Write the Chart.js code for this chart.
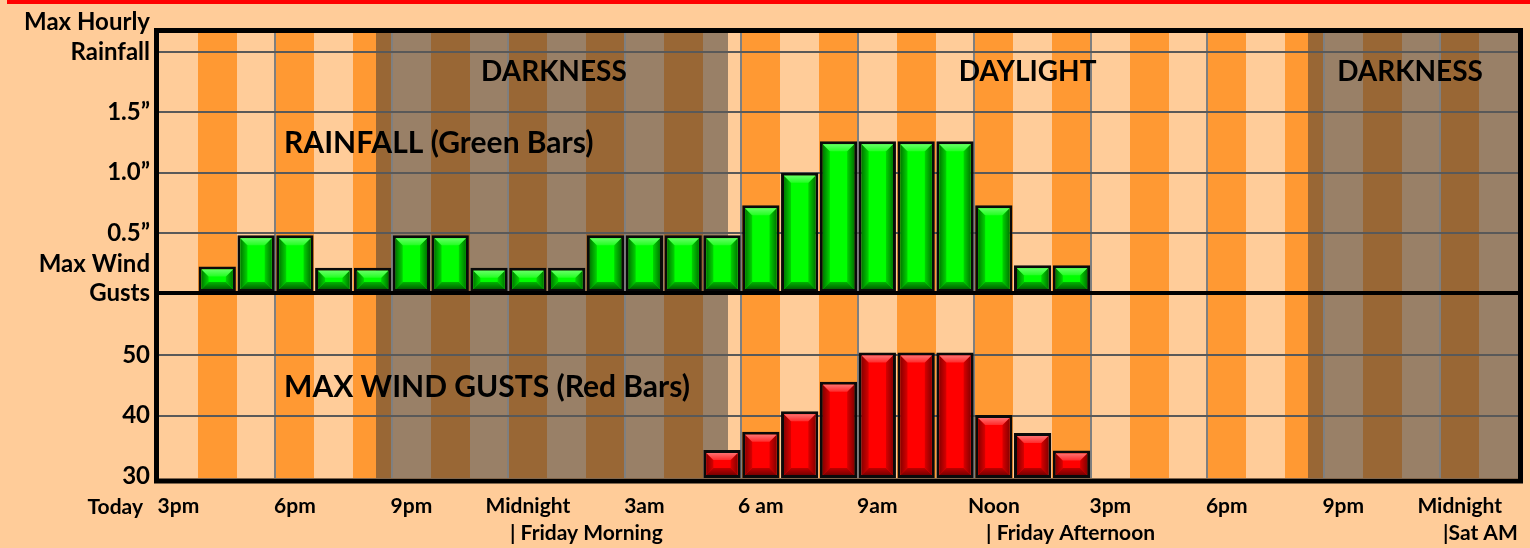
<!DOCTYPE html>
<html><head><meta charset="utf-8">
<script src="https://cdn.jsdelivr.net/npm/chart.js@4.4.1/dist/chart.umd.min.js"></script>
<style>
html,body{margin:0;padding:0;background:#FFCC99;}
body{width:1530px;height:548px;overflow:hidden;position:relative;}
#wrap{position:absolute;left:0;top:0;width:1530px;height:548px;}
#redline{position:absolute;left:7px;right:0;top:0;height:4px;background:#FF0000;}
</style></head><body>
<div id="wrap"><canvas id="c" width="1530" height="548"></canvas></div>
<div id="redline"></div>
<script>
// ---- data ----
const hours = ['Thu 3pm','Thu 4pm','Thu 5pm','Thu 6pm','Thu 7pm','Thu 8pm','Thu 9pm','Thu 10pm','Thu 11pm',
  'Fri 12am','Fri 1am','Fri 2am','Fri 3am','Fri 4am','Fri 5am','Fri 6am','Fri 7am','Fri 8am','Fri 9am','Fri 10am','Fri 11am',
  'Fri 12pm','Fri 1pm','Fri 2pm','Fri 3pm','Fri 4pm','Fri 5pm','Fri 6pm','Fri 7pm','Fri 8pm','Fri 9pm','Fri 10pm','Fri 11pm',
  'Sat 12am','Sat 1am'];
const xTickLabels = ['3pm','','','6pm','','','9pm','','','Midnight','','','3am','','','6 am','','','9am','','',
  'Noon','','','3pm','','','6pm','','','9pm','','','Midnight',''];
const rainfall = [null,0.22,0.48,0.48,0.21,0.21,0.48,0.48,0.21,0.21,0.21,0.48,0.48,0.48,0.48,0.73,1.0,1.26,1.26,1.26,1.26,0.73,0.23,0.23,
  null,null,null,null,null,null,null,null,null,null,null];
const windGusts = [null,null,null,null,null,null,null,null,null,null,null,null,null,null,
  34.3,37.3,40.7,45.6,50.4,50.4,50.4,40.1,37.1,34.2,null,null,null,null,null,null,null,null,null,null,null];
const rainTicks = [0,0.5,1.0,1.5,2.0];
const rainTickLabels = ['Gusts','0.5\u201D','1.0\u201D','1.5\u201D','Rainfall'];
const windTicks = [30,40,50];
const windTickLabels = ['30','40','50'];
const darknessSpans = [[5.6,14.65],[29.6,35]];   // in hour-column units
const dayLabels = ['| Friday Morning','| Friday Afternoon','|Sat AM'];

// ---- layout / style config ----
const RAIN_MIN = 0, RAIN_MAX = 2.16, WIND_MIN = 29.67, WIND_MAX = 60.25;
const FONT = 'Lato';
const dayLabelCols = [9.04, 21.3, 33.07];
const annotations = [
  {text:'DARKNESS', col:10.17, axis:'yRain', value:1.76, align:'center', size:28},
  {text:'DAYLIGHT', col:22.37, axis:'yRain', value:1.76, align:'center', size:28},
  {text:'DARKNESS', col:32.22, axis:'yRain', value:1.76, align:'center', size:28},
  {text:'RAINFALL (Green Bars)', col:3.22, axis:'yRain', value:1.163, align:'left', size:30},
  {text:'MAX WIND GUSTS (Red Bars)', col:3.22, axis:'yWind', value:43.0, align:'left', size:30}
];
const bevelStyles = {
  yRain:{edge:'#007A00', side:'#00D400', light:'#66FF66', light2:'#22FF22', dark:'#006400', dark2:'#00B400'},
  yWind:{edge:'#8A0000', side:'#D80000', light:'#FF7070', light2:'#FF2A2A', dark:'#7A0000', dark2:'#C00000'}
};

function poly(ctx, pts){
  ctx.beginPath(); ctx.moveTo(pts[0],pts[1]);
  for(let i=2;i<pts.length;i+=2) ctx.lineTo(pts[i],pts[i+1]);
  ctx.closePath(); ctx.fill();
}
function drawBevel(ctx,l,t,r,b,st){
  const d = Math.max(0, Math.min(7,(b-t)/2,(r-l)/2));
  let g = ctx.createLinearGradient(l,0,l+d,0); g.addColorStop(0,st.edge); g.addColorStop(1,st.side);
  ctx.fillStyle=g; poly(ctx,[l,t,l+d,t+d,l+d,b-d,l,b]);
  g = ctx.createLinearGradient(r,0,r-d,0); g.addColorStop(0,st.edge); g.addColorStop(1,st.side);
  ctx.fillStyle=g; poly(ctx,[r,t,r-d,t+d,r-d,b-d,r,b]);
  g = ctx.createLinearGradient(0,t,0,t+d); g.addColorStop(0,st.light); g.addColorStop(1,st.light2);
  ctx.fillStyle=g; poly(ctx,[l,t,r,t,r-d,t+d,l+d,t+d]);
  g = ctx.createLinearGradient(0,b,0,b-d); g.addColorStop(0,st.dark); g.addColorStop(1,st.dark2);
  ctx.fillStyle=g; poly(ctx,[l,b,r,b,r-d,b-d,l+d,b-d]);
}

function colInfo(chart){
  const x = chart.scales.x;
  const w = x.getPixelForValue(1) - x.getPixelForValue(0);
  const x0 = x.getPixelForValue(0) - w/2;
  return {x, w, x0};
}

const stripePlugin = {
  id:'stripes',
  beforeDraw(chart){
    const {ctx, chartArea:a} = chart;
    const {w, x0} = colInfo(chart);
    ctx.save();
    for(let i=0;i<hours.length;i++){
      const l = Math.round(x0 + i*w), r = Math.round(x0 + (i+1)*w);
      ctx.fillStyle = i%2 ? '#FF9933' : '#FFCC99';
      ctx.fillRect(l, a.top, r-l, a.bottom-a.top);
    }
    ctx.fillStyle = 'rgba(55,55,55,0.51)';
    for(const [s,e] of darknessSpans){
      const l = Math.round(x0 + s*w), r = Math.min(a.right, Math.round(x0 + e*w));
      ctx.fillRect(l, a.top, r-l, a.bottom-a.top);
    }
    ctx.restore();
  },
  afterDatasetsDraw(chart){
    const {ctx, chartArea:a} = chart;
    ctx.save();
    chart.data.datasets.forEach((ds,di)=>{
      const meta = chart.getDatasetMeta(di);
      const st = bevelStyles[ds.yAxisID];
      const bw = ds.borderWidth;
      meta.data.forEach((el,i)=>{
        if(ds.data[i]==null) return;
        const p = el.getProps(['x','y','base','width'], true);
        const left = p.x - p.width/2, right = p.x + p.width/2;
        const top = Math.min(p.y,p.base), bottom = Math.max(p.y,p.base);
        drawBevel(ctx, left+bw, top+bw, right-bw, bottom-bw, st);
      });
    });
    const yr = chart.scales.yRain;
    ctx.strokeStyle = '#000'; ctx.lineWidth = 4;
    ctx.beginPath(); ctx.moveTo(a.left, yr.bottom); ctx.lineTo(a.right, yr.bottom); ctx.stroke();
    ctx.restore();
  },
  afterDraw(chart){
    const {ctx, chartArea:a} = chart;
    const {x, w, x0} = colInfo(chart);
    ctx.save();
    ctx.strokeStyle = '#000'; ctx.lineWidth = 5;
    ctx.strokeRect(a.left-2.5, a.top-2.5, a.right-a.left+5, a.bottom-a.top+5.5);
    ctx.fillStyle = '#000';
    ctx.textBaseline = 'alphabetic';
    for(const an of annotations){
      ctx.font = 'bold ' + an.size + 'px ' + FONT;
      ctx.textAlign = an.align;
      ctx.fillText(an.text, x0 + an.col*w, chart.scales[an.axis].getPixelForValue(an.value));
    }
    const yr = chart.scales.yRain;
    ctx.font = 'bold 24px ' + FONT;
    ctx.textAlign = 'right'; ctx.textBaseline = 'middle';
    ctx.fillText('Max Hourly', yr.right - 9, yr.getPixelForValue(2.0) - 30);
    ctx.fillText('Max Wind', yr.right - 9, yr.getPixelForValue(0) - 29);
    ctx.font = 'bold 21px ' + FONT;
    ctx.textAlign = 'right';
    ctx.fillText('Today', 143, x.top + 29);
    ctx.textAlign = 'left';
    dayLabels.forEach((t,i)=>{ ctx.fillText(t, x0 + dayLabelCols[i]*w, x.top + 55); });
    ctx.restore();
  }
};

const tickFontY = {family:FONT, weight:'bold', size:24};
new Chart(document.getElementById('c'), {
  type:'bar',
  data:{
    labels:hours,
    datasets:[
      {label:'Max Hourly Rainfall', data:rainfall, yAxisID:'yRain', backgroundColor:'#00FF00',
       borderColor:'#0a0a0a', borderWidth:3, borderSkipped:false, grouped:false, barPercentage:0.96, categoryPercentage:1},
      {label:'Max Wind Gusts', data:windGusts, yAxisID:'yWind', base:WIND_MIN, backgroundColor:'#FF0000',
       borderColor:'#0a0a0a', borderWidth:3, borderSkipped:false, grouped:false, barPercentage:0.96, categoryPercentage:1}
    ]
  },
  options:{
    responsive:false, animation:false, devicePixelRatio:1,
    layout:{padding:{top:33, right:12, left:0, bottom:0}},
    plugins:{legend:{display:false}, tooltip:{enabled:false}, title:{display:false}},
    scales:{
      x:{
        type:'category', offset:true,
        grid:{offset:true, drawTicks:false, lineWidth:2,
          color:c => (c.index%3===0 && c.index>0 && c.index<hours.length) ? '#7F7F7F' : 'rgba(0,0,0,0)'},
        border:{display:false},
        ticks:{autoSkip:false, maxRotation:0, minRotation:0, padding:16, color:'#000',
          font:{family:FONT, weight:'bold', size:21}, callback:(v,i)=>xTickLabels[i]},
        afterFit:s=>{ s.height = 70; }
      },
      yWind:{
        type:'linear', position:'left', stack:'rows', stackWeight:185, bounds:'data',
        min:WIND_MIN, max:WIND_MAX,
        afterBuildTicks:s=>{ s.ticks = windTicks.map(v=>({value:v})); },
        ticks:{padding:9, color:'#000', font:tickFontY, autoSkip:false, callback:(v,i)=>windTickLabels[i]},
        grid:{drawTicks:false, lineWidth:2, color:c => (c.tick && c.tick.value===windTicks[0]) ? 'rgba(0,0,0,0)' : '#595959'},
        border:{display:false},
        afterFit:s=>{ s.width = 159; }
      },
      yRain:{
        type:'linear', position:'left', stack:'rows', stackWeight:260, bounds:'data',
        min:RAIN_MIN, max:RAIN_MAX,
        afterBuildTicks:s=>{ s.ticks = rainTicks.map(v=>({value:v})); },
        ticks:{padding:9, color:'#000', font:tickFontY, autoSkip:false, callback:(v,i)=>rainTickLabels[i]},
        grid:{drawTicks:false, lineWidth:2, color:c => (c.tick && c.tick.value===0) ? 'rgba(0,0,0,0)' : '#595959'},
        border:{display:false},
        afterFit:s=>{ s.width = 159; }
      }
    }
  },
  plugins:[stripePlugin]
});
</script>
</body></html>
